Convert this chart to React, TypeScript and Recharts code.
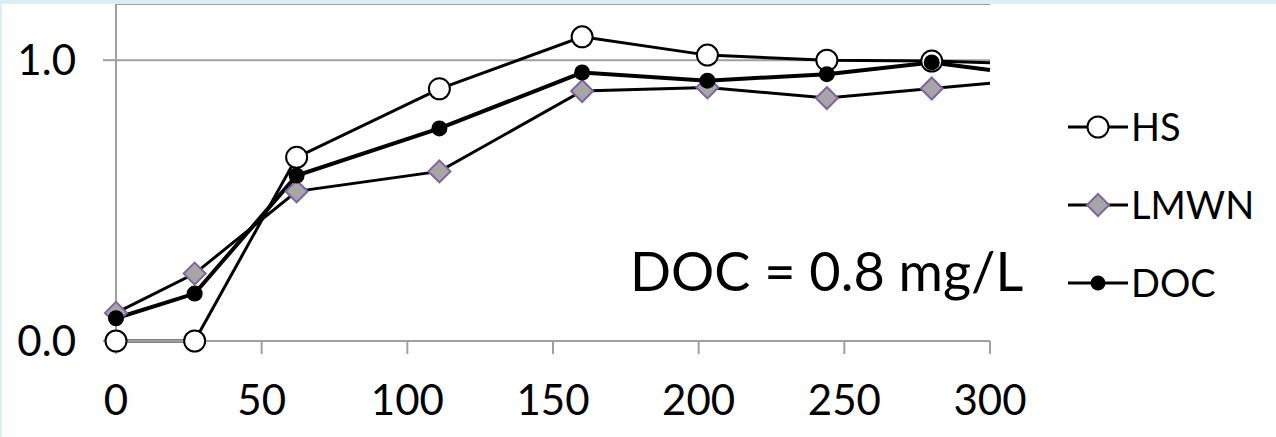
import { LineChart, Line, XAxis, YAxis, CartesianGrid, Legend } from "recharts";

// time points; the last one is where the lines run into the right edge of the plot (no marker there)
const times = [0, 27, 62, 111, 160, 203, 244, 280, 300];
const hsValues = [0, 0, 0.654, 0.898, 1.083, 1.018, 1.0, 0.997, 0.991];
const lmwnValues = [0.1, 0.24, 0.533, 0.604, 0.89, 0.903, 0.865, 0.899, 0.918];
const docValues = [0.081, 0.169, 0.589, 0.757, 0.956, 0.927, 0.95, 0.992, 0.965];
const edgeTime = 300;

const xTicks = [0, 50, 100, 150, 200, 250, 300];
const yTicks = [0, 1];
const annotation = "DOC = 0.8 mg/L";

const series = [
  { key: "hs", name: "HS" },
  { key: "lmwn", name: "LMWN" },
  { key: "doc", name: "DOC" },
];

const data = times.map((t, i) => ({
  t,
  hs: hsValues[i],
  lmwn: lmwnValues[i],
  doc: docValues[i],
}));

const GRAY = "#a0a0a0";
const PURPLE = "#8064a2";
const FONT = "Lato, 'Open Sans', sans-serif";

function Marker({ id, cx, cy }: { id: string; cx: number; cy: number }) {
  if (id === "hs") {
    return <circle cx={cx} cy={cy} r={10.5} fill="#fff" stroke="#000" strokeWidth={2} />;
  }
  if (id === "lmwn") {
    const s = 11;
    return (
      <polygon
        points={`${cx},${cy - s} ${cx + s},${cy} ${cx},${cy + s} ${cx - s},${cy}`}
        fill="#a6a6a6"
        stroke={PURPLE}
        strokeWidth={2}
      />
    );
  }
  return <circle cx={cx} cy={cy} r={8} fill="#000" />;
}

const makeDot = (id: string) => (p: any) => {
  if (p.payload?.t === edgeTime || p.cx == null || p.cy == null) return <g key={`${id}-${p.index}`} />;
  return (
    <g key={`${id}-${p.index}`}>
      <Marker id={id} cx={p.cx} cy={p.cy} />
    </g>
  );
};

function LegendBox() {
  return (
    <div style={{ fontFamily: FONT, fontSize: 38, color: "#000" }}>
      {series.map((s) => (
        <div key={s.key} style={{ display: "flex", alignItems: "center", height: 78 }}>
          <svg width={64} height={30} style={{ overflow: "visible" }}>
            <line x1={2} y1={15} x2={62} y2={15} stroke="#000" strokeWidth={3} />
            {s.key === "doc" ? (
              <circle cx={32} cy={15} r={7.5} fill="#000" />
            ) : (
              <Marker id={s.key} cx={32} cy={15} />
            )}
          </svg>
          <span style={{ marginLeft: 1, lineHeight: 1.2 }}>{s.name}</span>
        </div>
      ))}
    </div>
  );
}

export default function App() {
  return (
    <div
      style={{
        position: "absolute",
        left: 0,
        top: 0,
        width: 1276,
        height: 437,
        background: "#dcedf6",
        overflow: "hidden",
      }}
    >
      <div style={{ position: "absolute", left: 2, top: 4, width: 1274, height: 433, background: "#fff" }}>
        <LineChart width={1274} height={433} data={data} margin={{ top: 0, right: 286, bottom: 0, left: 0 }}>
          <CartesianGrid horizontal vertical={false} stroke={GRAY} strokeWidth={2} />
          <XAxis
            dataKey="t"
            type="number"
            domain={[0, 300]}
            ticks={xTicks}
            interval={0}
            height={96}
            tickSize={13}
            tickMargin={31}
            axisLine={{ stroke: GRAY, strokeWidth: 2 }}
            tickLine={{ stroke: GRAY, strokeWidth: 2 }}
            tick={{ fill: "#000", fontSize: 42, fontFamily: FONT }}
          />
          <YAxis
            type="number"
            domain={[0, 1.2]}
            ticks={yTicks}
            width={114}
            tickSize={13}
            tickMargin={27}
            tickFormatter={(v: number) => v.toFixed(1)}
            axisLine={{ stroke: GRAY, strokeWidth: 2 }}
            tickLine={{ stroke: GRAY, strokeWidth: 2 }}
            tick={{ fill: "#000", fontSize: 42, fontFamily: FONT }}
          />
          <Legend
            layout="horizontal"
            verticalAlign="middle"
            align="center"
            wrapperStyle={{ left: 1064, top: 84, width: 210 }}
            content={() => <LegendBox />}
          />
          <Line
            type="linear"
            dataKey="hs"
            name="HS"
            stroke="#000"
            strokeWidth={3}
            dot={makeDot("hs")}
            activeDot={false}
            isAnimationActive={false}
          />
          <Line
            type="linear"
            dataKey="lmwn"
            name="LMWN"
            stroke="#000"
            strokeWidth={3}
            dot={makeDot("lmwn")}
            activeDot={false}
            isAnimationActive={false}
          />
          <Line
            type="linear"
            dataKey="doc"
            name="DOC"
            stroke="#000"
            strokeWidth={4}
            dot={makeDot("doc")}
            activeDot={false}
            isAnimationActive={false}
          />
        </LineChart>
      </div>
      <svg width={1276} height={437} style={{ position: "absolute", left: 0, top: 0, pointerEvents: "none" }}>
        <text x={630} y={291} fontFamily={FONT} fontSize={54} fill="#000">
          {annotation}
        </text>
      </svg>
    </div>
  );
}
